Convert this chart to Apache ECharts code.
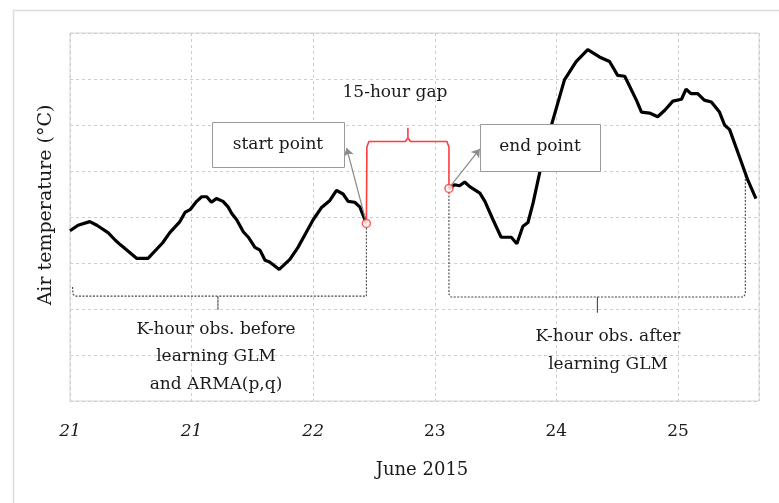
<!DOCTYPE html>
<html>
<head>
<meta charset="utf-8">
<script src="https://cdn.jsdelivr.net/npm/echarts@6/dist/echarts.min.js"></script>
<style>
html,body{margin:0;padding:0;background:#fff;}
#chart{width:779px;height:503px;}
</style>
</head>
<body>
<div id="chart"></div>
<script>
// x: hours since start of the window, y: air temperature (arbitrary scale, labels hidden)
var xTickLabels = ['21', '21', '22', '23', '24', '25'];
var xTickItalic = [true, true, true, false, false, false];

var beforeSeries = [
  [0, 18.5], [1.6, 19.1], [3.9, 19.5], [5.3, 19.1], [7.5, 18.3], [8.9, 17.5], [9.9, 17.0],
  [13.2, 15.5], [15.4, 15.5], [18.3, 17.2], [19.7, 18.3], [21.7, 19.5], [22.7, 20.5],
  [23.7, 20.8], [25.0, 21.7], [26.0, 22.2], [27.0, 22.2], [27.9, 21.6], [28.9, 22.0],
  [30.2, 21.7], [31.2, 21.1], [31.9, 20.4], [32.9, 19.7], [34.2, 18.4], [35.2, 17.8],
  [36.5, 16.7], [37.5, 16.4], [38.5, 15.3], [39.4, 15.1], [41.3, 14.3], [43.4, 15.4],
  [45.0, 16.7], [46.7, 18.4], [48.0, 19.7], [49.6, 21.0], [51.3, 21.8], [52.6, 22.9],
  [53.9, 22.5], [54.9, 21.7], [56.2, 21.6], [57.2, 21.1], [58.5, 19.3]
];

var afterSeries = [
  [74.8, 23.1], [75.9, 23.5], [76.9, 23.4], [77.9, 23.8], [78.9, 23.3], [80.9, 22.6],
  [81.9, 21.7], [83.5, 19.7], [85.1, 17.8], [87.1, 17.8], [88.2, 17.1], [89.4, 19.0],
  [90.4, 19.4], [91.4, 21.5], [92.7, 24.8], [94.0, 28.0], [95.3, 30.5], [97.6, 34.9],
  [99.9, 36.9], [102.2, 38.2], [104.5, 37.4], [106.5, 36.9], [108.1, 35.4], [109.5, 35.3],
  [111.8, 32.7], [112.8, 31.4], [114.4, 31.3], [116.0, 30.9], [117.4, 31.6], [119.0, 32.6],
  [120.7, 32.8], [121.6, 33.9], [122.6, 33.4], [123.9, 33.4], [125.2, 32.7], [126.6, 32.5],
  [128.2, 31.4], [129.2, 30.0], [130.2, 29.5], [132.1, 26.6], [133.8, 24.0], [135.4, 22.0]
];

// 15-hour gap brace (red)
var gapBrace = [
  [58.5, 19.3], [58.6, 27.6], [59.0, 28.2], [66.2, 28.2], [66.7, 28.6], [66.7, 29.7],
  [66.7, 28.6], [67.2, 28.2], [74.4, 28.2], [74.8, 27.6], [74.8, 23.1]
];

// dashed brackets for the K-hour observation windows
var bracketBefore = [
  [0.5, 12.4], [0.6, 11.6], [1.0, 11.4], [29.2, 11.4], [29.2, 9.9], [29.2, 11.4],
  [58.5, 11.4], [58.5, 19.3]
];
var bracketAfter = [
  [74.8, 23.1], [74.8, 11.6], [75.2, 11.3], [104.1, 11.3], [104.1, 9.6], [104.1, 11.3],
  [132.9, 11.3], [133.3, 11.6], [133.3, 24.6]
];

// arrows from the gap points towards the label boxes
var arrowStart = [[58.3, 19.8], [54.6, 27.5]];
var arrowEnd = [[75.3, 23.5], [80.9, 27.4]];

var FONT = 'DejaVu Serif';
var TXT = '#1a1a1a';

var chart = echarts.init(document.getElementById('chart'), null, {renderer: 'canvas'});

var option = {
  backgroundColor: '#fff',
  animation: false,
  grid: {
    left: 70, right: 20, top: 33, bottom: 102,
    show: true, borderColor: '#d4d4d4', borderWidth: 1, backgroundColor: 'transparent'
  },
  xAxis: {
    type: 'value', min: 0, max: 136, interval: 24,
    axisLine: {show: false}, axisTick: {show: false},
    splitLine: {show: true, lineStyle: {color: '#cdcdcd', type: [3, 3], width: 1}},
    axisLabel: {
      margin: 22, showMaxLabel: false,
      formatter: function (v) {
        var i = Math.round(v / 24);
        if (Math.abs(v - i * 24) > 0.01 || i >= xTickLabels.length) return '';
        return (xTickItalic[i] ? '{i|' : '{n|') + xTickLabels[i] + '}';
      },
      rich: {
        i: {fontFamily: FONT, fontSize: 17, fontStyle: 'italic', color: TXT},
        n: {fontFamily: FONT, fontSize: 17, color: TXT}
      }
    }
  },
  yAxis: {
    type: 'value', min: 0, max: 40, interval: 5,
    axisLine: {show: false}, axisTick: {show: false}, axisLabel: {show: false},
    splitLine: {show: true, lineStyle: {color: '#cdcdcd', type: [3, 3], width: 1}}
  },
  series: [
    {
      type: 'line', data: bracketBefore, showSymbol: false, symbol: 'none', silent: true,
      lineStyle: {color: '#444', width: 1.1, type: [2, 1.5]}, z: 2
    },
    {
      type: 'line', data: bracketAfter, showSymbol: false, symbol: 'none', silent: true,
      lineStyle: {color: '#444', width: 1.1, type: [2, 1.5]}, z: 2
    },
    {
      type: 'line', data: beforeSeries, showSymbol: false, symbol: 'none',
      lineStyle: {color: '#000', width: 3.2}, z: 4
    },
    {
      type: 'line', data: afterSeries, showSymbol: false, symbol: 'none',
      lineStyle: {color: '#000', width: 3.2}, z: 4
    },
    {
      type: 'line', data: gapBrace, showSymbol: false, symbol: 'none', silent: true,
      lineStyle: {color: '#ff3b3b', width: 1.6}, z: 5
    },
    {
      type: 'line', data: [], silent: true, z: 3,
      markLine: {
        silent: true, symbol: ['none', 'arrow'], symbolSize: 8,
        label: {show: false},
        lineStyle: {color: '#8a8a8a', width: 1.2, type: 'solid'},
        data: [
          [{coord: arrowStart[0]}, {coord: arrowStart[1]}],
          [{coord: arrowEnd[0]}, {coord: arrowEnd[1]}]
        ]
      }
    },
    {
      type: 'scatter', silent: true, z: 6,
      data: [beforeSeries[beforeSeries.length - 1], afterSeries[0]],
      symbol: 'circle', symbolSize: 8,
      itemStyle: {color: '#fff', borderColor: '#ff3b3b', borderWidth: 1.6}
    }
  ],
  graphic: [
    {type: 'rect', z: -10, silent: true,
      shape: {x: 13.5, y: 10.5, width: 800, height: 600}, style: {fill: 'none', stroke: '#dcdcdc', lineWidth: 1.5}},
    {type: 'rect', z: 20, silent: true, shape: {x: 212.5, y: 122.5, width: 132, height: 45},
      style: {fill: '#fff', stroke: '#9a9a9a', lineWidth: 1}},
    {type: 'text', z: 21, silent: true, x: 278, y: 145,
      style: {text: 'start point', font: '17px "' + FONT + '"', fill: TXT, textAlign: 'center', textVerticalAlign: 'middle'}},
    {type: 'rect', z: 20, silent: true, shape: {x: 480.5, y: 124.5, width: 120, height: 47},
      style: {fill: '#fff', stroke: '#9a9a9a', lineWidth: 1}},
    {type: 'text', z: 21, silent: true, x: 540, y: 147,
      style: {text: 'end point', font: '17px "' + FONT + '"', fill: TXT, textAlign: 'center', textVerticalAlign: 'middle'}},
    {type: 'text', z: 21, silent: true, x: 395, y: 93,
      style: {text: '15-hour gap', font: '17px "' + FONT + '"', fill: TXT, textAlign: 'center', textVerticalAlign: 'middle'}},
    {type: 'text', z: 21, silent: true, x: 216, y: 357,
      style: {text: 'K-hour obs. before\nlearning GLM\nand ARMA(p,q)', font: '17px "' + FONT + '"', fill: TXT,
        textAlign: 'center', textVerticalAlign: 'middle', lineHeight: 27.5}},
    {type: 'text', z: 21, silent: true, x: 608, y: 351,
      style: {text: 'K-hour obs. after\nlearning GLM', font: '17px "' + FONT + '"', fill: TXT,
        textAlign: 'center', textVerticalAlign: 'middle', lineHeight: 28}},
    {type: 'text', z: 21, silent: true, x: 46, y: 205, rotation: Math.PI / 2,
      style: {text: 'Air temperature (°C)', font: '19px "' + FONT + '"', fill: TXT, textAlign: 'center', textVerticalAlign: 'middle'}},
    {type: 'text', z: 21, silent: true, x: 422, y: 470,
      style: {text: 'June 2015', font: '18px "' + FONT + '"', fill: TXT, textAlign: 'center', textVerticalAlign: 'middle'}}
  ]
};
chart.setOption(option);
</script>
</body>
</html>
